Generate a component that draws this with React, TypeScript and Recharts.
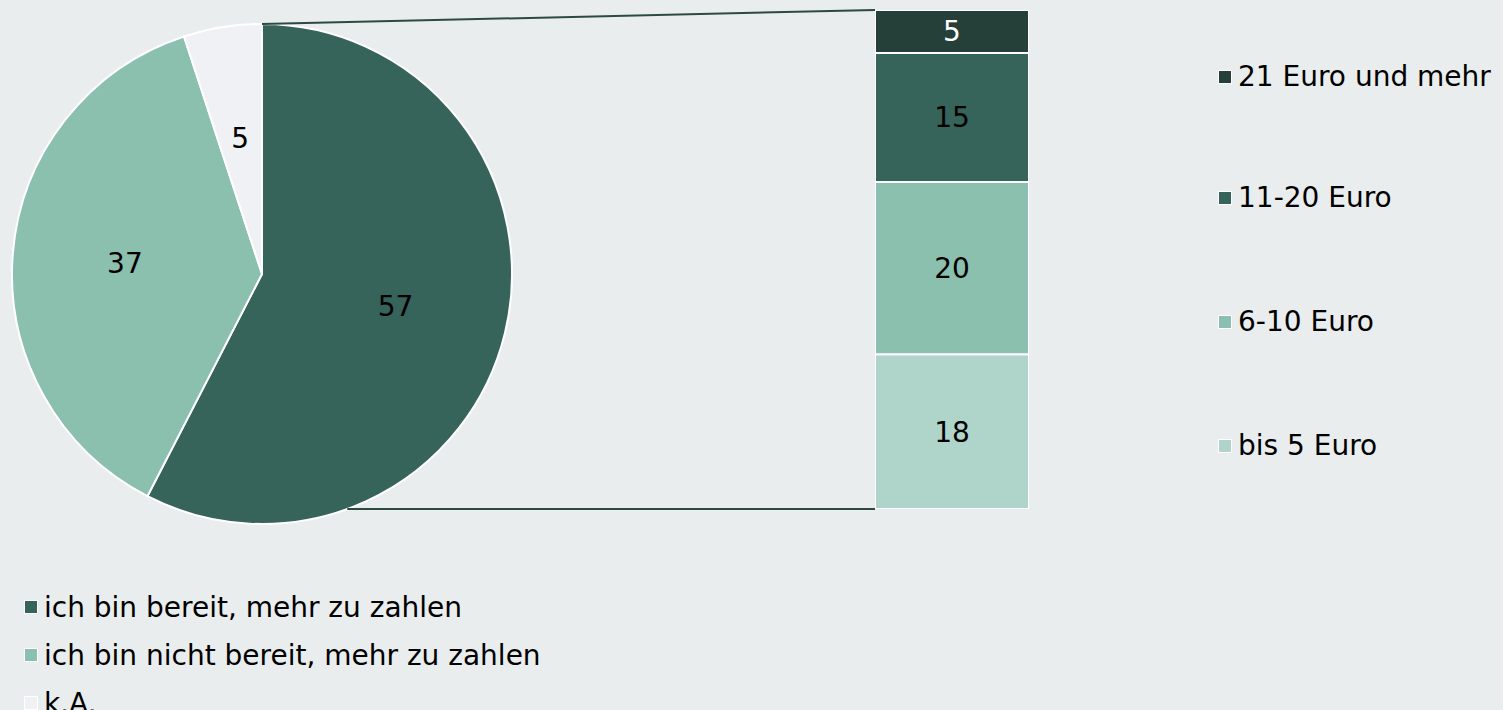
import { PieChart, Pie, Cell, BarChart, Bar, XAxis, YAxis, LabelList } from 'recharts';

const pieNames = ['ich bin bereit, mehr zu zahlen', 'ich bin nicht bereit, mehr zu zahlen', 'k.A.'];
const pieValues = [57, 37, 5];
const pieColors = ['#36635a', '#8bbfae', '#eff1f5'];

// stacked bar, bottom to top
const barNames = ['bis 5 Euro', '6-10 Euro', '11-20 Euro', '21 Euro und mehr'];
const barValues = [18, 20, 15, 5];
const barColors = ['#afd4c9', '#8bbfae', '#36635a', '#254038'];
const barLabelColors = ['#000', '#000', '#000', '#fff'];

const FONT = '"DejaVu Sans", Verdana, sans-serif';
const FS = 28;
const BG = '#e9eded';

// layout
const PIE_CX = 262;
const PIE_CY = 274;
const PIE_R = 250;
const BAR_LEFT = 875;
const BAR_TOP = 10;
const BAR_W = 154;
const BAR_H = 499;

const pieData = pieNames.map((name, i) => ({ name, value: pieValues[i] }));
const barRow: Record<string, string | number> = { name: 'mehr' };
barNames.forEach((n, i) => { barRow[`s${i}`] = barValues[i]; });
const barData = [barRow];

const RAD = Math.PI / 180;
const renderPieLabel = (props: any) => {
  const { cx, cy, midAngle, outerRadius, value } = props;
  const r = outerRadius * 0.55;
  const x = cx + r * Math.cos(-midAngle * RAD);
  const y = cy + r * Math.sin(-midAngle * RAD);
  return (
    <text x={x} y={y} fill="#000" fontSize={FS} fontFamily={FONT} textAnchor="middle" dominantBaseline="central">
      {value}
    </text>
  );
};

const Swatch = ({ color }: { color: string }) => (
  <span style={{ display: 'inline-block', width: 14, height: 14, background: color, border: '1px solid #fff', boxSizing: 'border-box', marginRight: 6, flex: 'none' }} />
);

export default function App() {
  const bottomY = BAR_TOP + BAR_H;
  const lowX = PIE_CX + Math.sqrt(PIE_R * PIE_R - (bottomY - PIE_CY) ** 2);
  return (
    <div style={{ position: 'absolute', left: 0, top: 0, width: 1503, height: 710, background: BG, overflow: 'hidden', fontFamily: FONT }}>
      <div style={{ position: 'absolute', left: 0, top: 0 }}>
        <PieChart width={540} height={540} margin={{ top: 0, right: 0, bottom: 0, left: 0 }}>
          <Pie
            data={pieData}
            dataKey="value"
            cx={PIE_CX}
            cy={PIE_CY}
            outerRadius={PIE_R}
            startAngle={90}
            endAngle={-270}
            stroke="#fff"
            strokeWidth={2}
            label={renderPieLabel}
            labelLine={false}
            isAnimationActive={false}
          >
            {pieData.map((d, i) => <Cell key={d.name} fill={pieColors[i]} />)}
          </Pie>
        </PieChart>
      </div>

      <svg style={{ position: 'absolute', left: 0, top: 0 }} width={1503} height={710}>
        <line x1={PIE_CX} y1={PIE_CY - PIE_R} x2={BAR_LEFT} y2={BAR_TOP} stroke="#2d4a42" strokeWidth={2} />
        <line x1={lowX} y1={bottomY} x2={BAR_LEFT} y2={bottomY} stroke="#2d4a42" strokeWidth={2} />
      </svg>

      <div style={{ position: 'absolute', left: BAR_LEFT, top: BAR_TOP }}>
        <BarChart width={BAR_W} height={BAR_H} data={barData} margin={{ top: 0, right: 0, bottom: 0, left: 0 }} barCategoryGap={0}>
          <XAxis dataKey="name" hide />
          <YAxis hide domain={[0, 58]} />
          {barNames.map((n, i) => (
            <Bar key={n} dataKey={`s${i}`} stackId="a" fill={barColors[i]} stroke="#fff" strokeWidth={2} isAnimationActive={false}>
              <LabelList dataKey={`s${i}`} position="center" fill={barLabelColors[i]} fontSize={FS} fontFamily={FONT} />
            </Bar>
          ))}
        </BarChart>
      </div>

      {/* right legend, top to bottom */}
      {[...barNames].reverse().map((n, k) => {
        const i = barNames.length - 1 - k;
        const ys = [77, 198, 322, 446];
        return (
          <div key={n} style={{ position: 'absolute', left: 1218, top: ys[k] - 17, fontSize: FS, lineHeight: '34px', display: 'flex', alignItems: 'center', whiteSpace: 'nowrap', color: '#000' }}>
            <Swatch color={barColors[i]} />
            {n}
          </div>
        );
      })}

      {/* bottom legend */}
      <div style={{ position: 'absolute', left: 24, top: 583, fontSize: FS, color: '#000' }}>
        {pieNames.map((n, i) => (
          <div key={n} style={{ display: 'flex', alignItems: 'center', height: 48, whiteSpace: 'nowrap' }}>
            <Swatch color={pieColors[i]} />
            {n}
          </div>
        ))}
      </div>
    </div>
  );
}
